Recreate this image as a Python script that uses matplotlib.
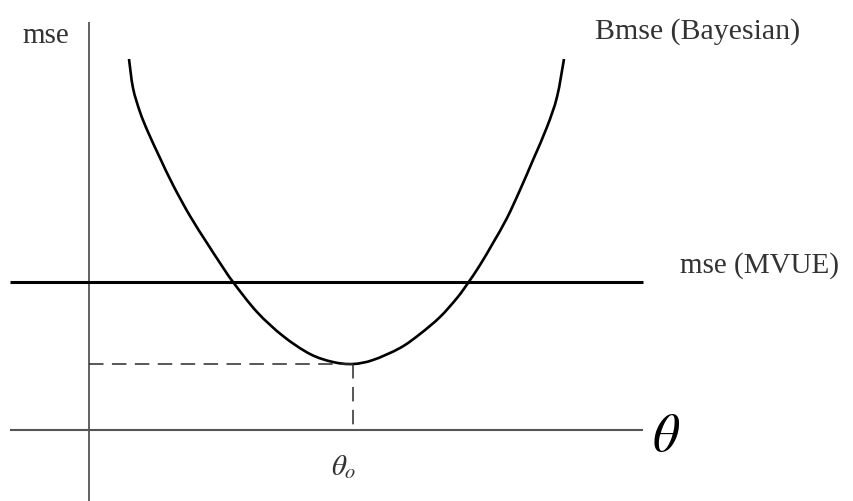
import matplotlib
matplotlib.use("Agg")
import matplotlib.pyplot as plt
from matplotlib.path import Path
from matplotlib.patches import PathPatch

plt.rcParams['mathtext.fontset'] = 'stix'

# Bayesian mse curve (theta, Bmse)
theta_curve = [40, 44, 51, 59, 71, 84, 101, 118, 131, 144, 168, 194, 221, 244, 264,
               284, 311, 331, 351, 368, 379, 391, 404, 418, 431, 444, 458, 468, 475]
bmse_curve = [371, 342, 318, 298, 272, 245, 214, 187, 167, 148, 118, 94, 76, 68, 66,
              70, 82, 96, 113, 132, 147, 165, 187, 212, 240, 270, 303, 333, 371]

mvue_level = 148          # constant mse of the MVUE
theta_opt = 264           # theta_o
bmse_min = 66             # minimum Bmse

axis_theta_range = [-79, 554]
axis_mse_range = [-71, 408]

labels = {
    "mse": "mse",
    "bayes": "Bmse (Bayesian)",
    "mvue": "mse (MVUE)",
    "theta": r"$\theta$",
    "theta_o": r"$\theta_o$",
}


def smooth_path(xs, ys):
    """Catmull-Rom through the given points, drawn as cubic Bezier segments."""
    pts = list(zip(xs, ys))
    n = len(pts)
    verts = [pts[0]]
    codes = [Path.MOVETO]
    for i in range(n - 1):
        p0 = pts[i - 1] if i > 0 else pts[i]
        p1 = pts[i]
        p2 = pts[i + 1]
        p3 = pts[i + 2] if i + 2 < n else pts[i + 1]
        c1 = (p1[0] + (p2[0] - p0[0]) / 6.0, p1[1] + (p2[1] - p0[1]) / 6.0)
        c2 = (p2[0] - (p3[0] - p1[0]) / 6.0, p2[1] - (p3[1] - p1[1]) / 6.0)
        verts += [c1, c2, p2]
        codes += [Path.CURVE4] * 3
    return Path(verts, codes)


fig = plt.figure(figsize=(8.54, 5.01), dpi=100)
ax = fig.add_axes([0, 0, 1, 1])
ax.set_xlim(-89, 765)
ax.set_ylim(-71, 430)
ax.axis('off')

# axes
ax.plot(axis_theta_range, [0, 0], color='#555555', lw=1.5, solid_capstyle='butt')
ax.plot([0, 0], axis_mse_range, color='#555555', lw=1.3, solid_capstyle='butt')

# MVUE line
ax.plot(axis_theta_range, [mvue_level, mvue_level], color='black', lw=2.2,
        solid_capstyle='butt')

# dashed guides
ax.plot([0, theta_opt], [bmse_min, bmse_min], color='#2a2a2a', lw=1.1,
        linestyle=(0, (9.5, 5.5)))
ax.plot([theta_opt, theta_opt], [bmse_min, 0], color='#2a2a2a', lw=1.1,
        linestyle=(0, (9.5, 5.5)))

# Bayesian curve
ax.add_patch(PathPatch(smooth_path(theta_curve, bmse_curve), facecolor='none',
                       edgecolor='black', lw=1.9, capstyle='butt',
                       joinstyle='round'))

serif = 'Liberation Serif'
ax.text(-67, 387, labels["mse"], fontsize=21, family=serif, color='#333333',
        ha='left', va='baseline')
ax.text(506, 391, labels["bayes"], fontsize=21.5, family=serif, color='#333333',
        ha='left', va='baseline')
ax.text(591, 157, labels["mvue"], fontsize=21, family=serif, color='#333333',
        ha='left', va='baseline')
ax.text(577, -6, labels["theta"], fontsize=38, color='black',
        ha='center', va='center')
ax.text(255, -37, labels["theta_o"], fontsize=21, color='#333333',
        ha='center', va='center')

fig.savefig("out.png", dpi=100)
